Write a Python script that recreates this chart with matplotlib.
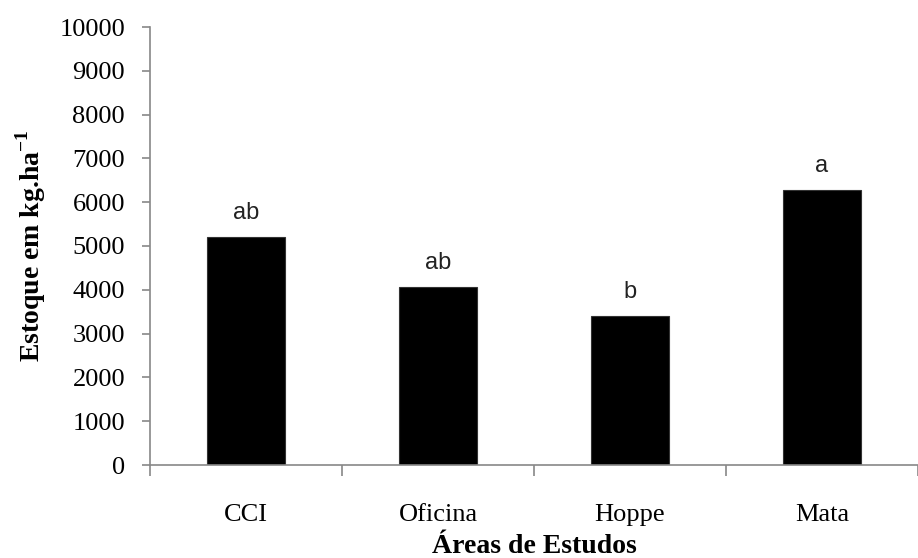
import matplotlib; matplotlib.use("Agg")
import matplotlib.pyplot as plt

areas = ["CCI", "Oficina", "Hoppe", "Mata"]
estoque = [5210, 4060, 3400, 6280]
letras = ["ab", "ab", "b", "a"]

plt.rcParams["font.family"] = ["Liberation Serif", "DejaVu Serif"]
plt.rcParams["mathtext.fontset"] = "custom"
plt.rcParams["mathtext.rm"] = "Liberation Serif"
plt.rcParams["mathtext.bf"] = "Liberation Serif:bold"

fig = plt.figure(figsize=(9.18, 5.58), dpi=100)
ax = fig.add_axes([150/918, 1-465/558, 1-150/918, (465-27)/558])

x = range(len(areas))
ax.bar(x, estoque, 0.41, color="black", edgecolor="#333333", linewidth=0.8)
for i, (v, l) in enumerate(zip(estoque, letras)):
    ax.annotate(l, (i, v), textcoords="offset points", xytext=(0, 13), ha="center",
                fontsize=17, family=["Liberation Sans", "DejaVu Sans"], color="#222222")

ax.set_ylim(0, 10000)
ax.set_yticks(range(0, 10001, 1000))
ax.set_xlim(-0.5, 3.42)
ax.set_xticks(x)
ax.set_xticklabels(areas)
ax.set_xticks([-0.5, 0.5, 1.5, 2.5, 3.5], minor=True)
ax.tick_params(axis="x", which="major", length=0, pad=28, labelsize=19)
ax.tick_params(axis="x", which="minor", length=8, color="#888888", width=1.2)
ax.tick_params(axis="y", length=6, color="#888888", width=1.2, labelsize=19, pad=12)
for s in ["top", "right"]:
    ax.spines[s].set_visible(False)
for s in ["left", "bottom"]:
    ax.spines[s].set_color("#888888")
    ax.spines[s].set_linewidth(1.2)

ax.set_xlabel("Áreas de Estudos", fontsize=20, fontweight="bold", labelpad=6)
ax.set_ylabel("Estoque em kg.ha$^{\\mathbf{-1}}$", fontsize=20, fontweight="bold", labelpad=8)

fig.savefig("out.png", dpi=100)
